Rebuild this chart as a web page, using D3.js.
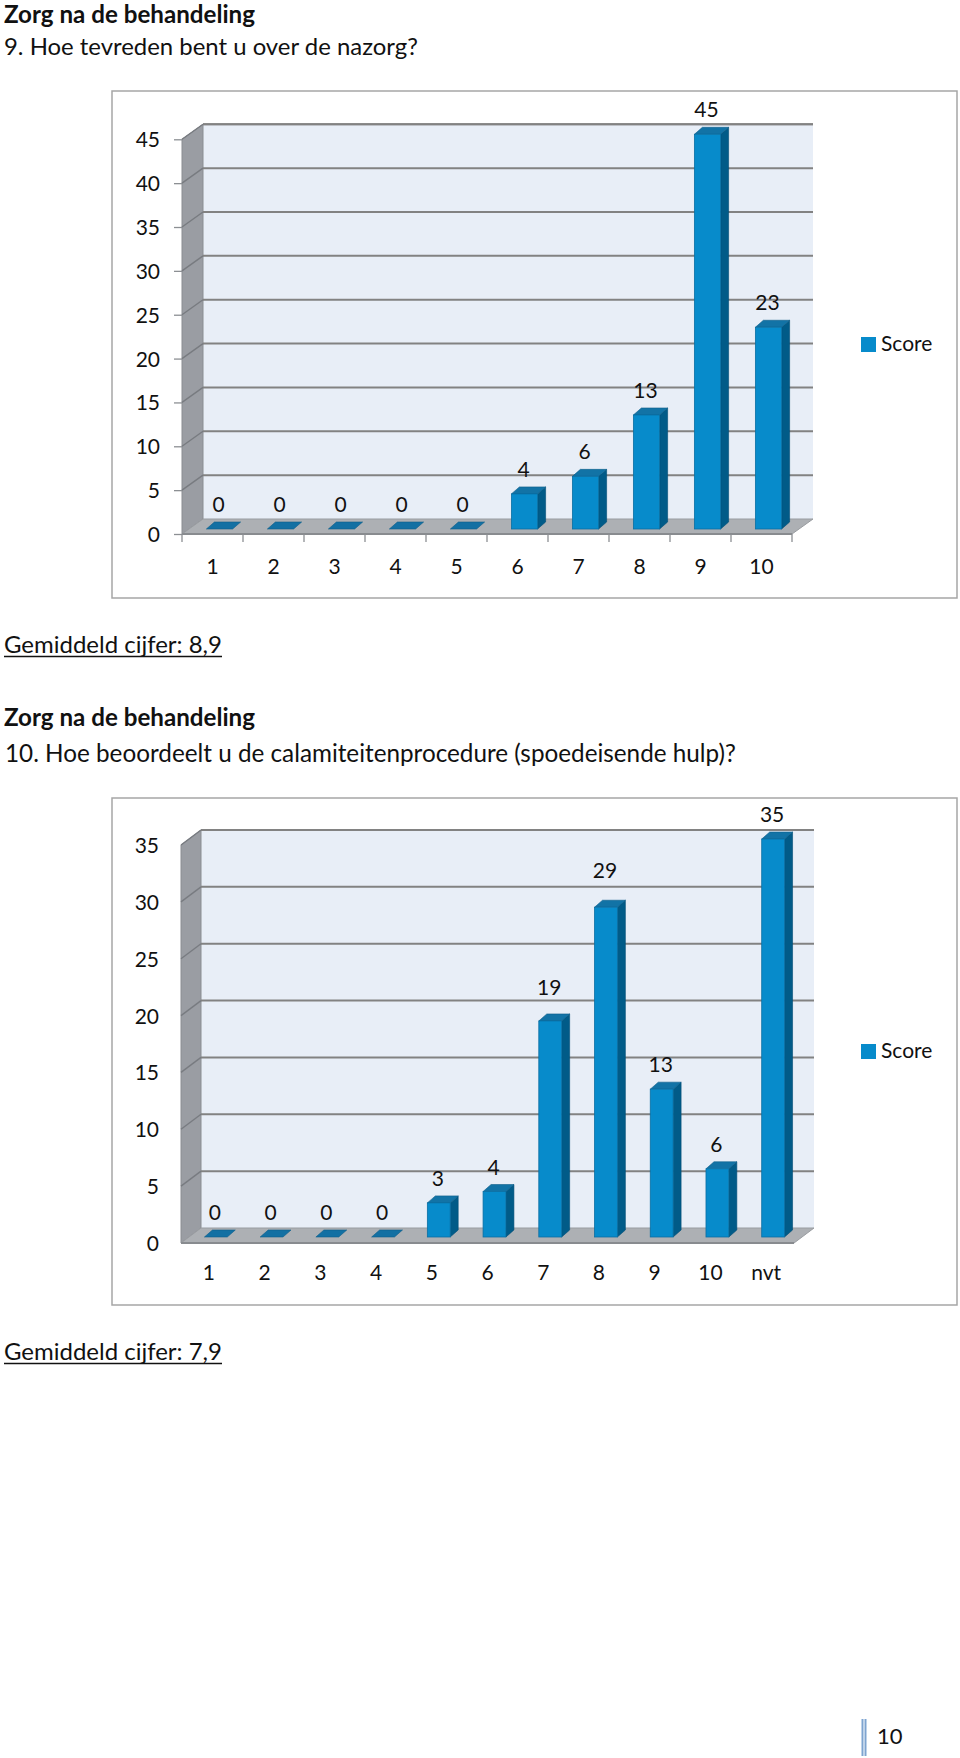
<!DOCTYPE html>
<html><head><meta charset="utf-8">
<script src="https://cdn.jsdelivr.net/npm/d3@7"></script>
<style>html,body{margin:0;padding:0;background:#fff} svg{display:block} text{font-family:Lato,"Open Sans",sans-serif;fill:#111}</style>
</head><body><svg id="c" width="960" height="1758"></svg>
<script>
const categories1 = ["1","2","3","4","5","6","7","8","9","10"];
const values1 = [0,0,0,0,0,4,6,13,45,23];
const yTicks1 = [0,5,10,15,20,25,30,35,40,45];
const categories2 = ["1","2","3","4","5","6","7","8","9","10","nvt"];
const values2 = [0,0,0,0,3,4,19,29,13,6,35];
const yTicks2 = [0,5,10,15,20,25,30,35];
const seriesName = "Score";
const heading = "Zorg na de behandeling";
const question1 = "9. Hoe tevreden bent u over de nazorg?";
const question2 = "10. Hoe beoordeelt u de calamiteitenprocedure (spoedeisende hulp)?";
const average1 = "Gemiddeld cijfer: 8,9";
const average2 = "Gemiddeld cijfer: 7,9";
const pageNumber = "10";

const svg = d3.select("#c");
const FS = 21;

function fitText(t, w){
  const base = 20;
  t.style("font-size", base + "px");
  const L = t.node().getComputedTextLength();
  t.style("font-size", (base * w / L) + "px");
}
function textLine(str, x, y, w, bold, underline){
  const t = svg.append("text").attr("x", x).attr("y", y).text(str)
    .style("font-weight", bold ? "700" : "400");
  fitText(t, w);
  if (underline){
    svg.append("line").attr("x1", x).attr("x2", x + w).attr("y1", y + 3.5).attr("y2", y + 3.5)
      .attr("stroke", "#111").attr("stroke-width", 1.3);
  }
}

textLine(heading, 4, 22.5, 251, true, false);
textLine(question1, 4, 55, 414, false, false);
textLine(average1, 4, 653, 218, false, true);
textLine(heading, 4, 726, 251, true, false);
textLine(question2, 5, 762, 731, false, false);
textLine(average2, 4, 1360, 218, false, true);

function drawChart(cfg){
  const g = svg.append("g");
  g.append("rect").attr("x", cfg.frame[0]).attr("y", cfg.frame[1])
    .attr("width", cfg.frame[2]).attr("height", cfg.frame[3])
    .attr("fill", "#fff").attr("stroke", "#a6a6a6").attr("stroke-width", 1.5);

  const x = d3.scaleBand().domain(cfg.categories).range([cfg.x0, cfg.x1]).padding(0);
  const y = d3.scaleLinear().domain([0, cfg.max]).range([cfg.y0, cfg.yTop]);
  const dx = cfg.dx, dy = cfg.dy;
  const yMax = y(cfg.max);

  // back wall
  g.append("rect").attr("x", cfg.x0 + dx).attr("y", yMax - dy)
    .attr("width", cfg.x1 - cfg.x0).attr("height", cfg.y0 - yMax)
    .attr("fill", "#e8eef7");
  g.append("line").attr("x1", cfg.x0 + dx).attr("x2", cfg.x1 + dx).attr("y1", yMax - dy).attr("y2", yMax - dy)
    .attr("stroke", "#8a8a8a").attr("stroke-width", 2);
  // side wall
  g.append("path").attr("d", `M${cfg.x0},${cfg.y0} L${cfg.x0},${yMax} L${cfg.x0+dx},${yMax-dy} L${cfg.x0+dx},${cfg.y0-dy} Z`)
    .attr("fill", "#9a9da3").attr("stroke", "#8a8d92").attr("stroke-width", 1);
  // gridlines
  cfg.ticks.forEach(v => {
    if (v === 0) return;
    const yy = y(v);
    g.append("line").attr("x1", cfg.x0 + dx).attr("x2", cfg.x1 + dx)
      .attr("y1", yy - dy).attr("y2", yy - dy)
      .attr("stroke", "#828282").attr("stroke-width", 2);
    g.append("line").attr("x1", cfg.x0).attr("x2", cfg.x0 + dx)
      .attr("y1", yy).attr("y2", yy - dy)
      .attr("stroke", "#787b80").attr("stroke-width", 1.4);
  });
  // floor
  g.append("path").attr("d", `M${cfg.x0},${cfg.y0} L${cfg.x1},${cfg.y0} L${cfg.x1+dx},${cfg.y0-dy} L${cfg.x0+dx},${cfg.y0-dy} Z`)
    .attr("fill", "#adb0b4").attr("stroke", "#999ca0").attr("stroke-width", 1);
  g.append("line").attr("x1", cfg.x0).attr("x2", cfg.x1).attr("y1", cfg.y0).attr("y2", cfg.y0)
    .attr("stroke", "#888b8f").attr("stroke-width", 1.8);

  // value axis
  const ay = g.append("g").attr("transform", `translate(${cfg.x0},0)`)
    .call(d3.axisLeft(y).tickValues(cfg.ticks).tickSize(cfg.tickMarks ? 8 : 0)
      .tickPadding(cfg.x0 - cfg.labelRight - (cfg.tickMarks ? 8 : 0)).tickFormat(d3.format("d")));
  ay.select(".domain").remove();
  ay.selectAll(".tick line").attr("stroke", "#8c8f93").attr("stroke-width", 1.3);
  ay.selectAll(".tick text").style("font-size", FS + "px").style("font-family", "Lato").attr("fill", "#111").attr("dy", "0.36em");

  // category axis
  const ax = g.append("g").attr("transform", `translate(0,${cfg.y0})`)
    .call(d3.axisBottom(x).tickSize(0).tickPadding(cfg.catPad));
  ax.select(".domain").remove();
  ax.selectAll(".tick text").style("font-size", FS + "px").style("font-family", "Lato").attr("fill", "#111");
  if (cfg.tickMarks){
    const bounds = cfg.categories.map(c => x(c)).concat([cfg.x1]);
    g.selectAll(null).data(bounds).enter().append("line")
      .attr("x1", d => d).attr("x2", d => d).attr("y1", cfg.y0).attr("y2", cfg.y0 + 8)
      .attr("stroke", "#8c8f93").attr("stroke-width", 1.3);
  }

  // bars
  const bw = x.bandwidth() * cfg.barRatio;
  const data = cfg.categories.map((c, i) => ({c, v: cfg.values[i]}));
  const bars = g.append("g").selectAll("g").data(data).enter().append("g");
  const base = y(0) + cfg.oy;
  const bdx = cfg.bdx, bdy = cfg.bdy;
  bars.each(function(d){
    const s = d3.select(this);
    const left = x(d.c) + x.bandwidth()/2 + cfg.ox - bw/2;
    const top = y(d.v) + cfg.oy;
    if (d.v === 0){
      s.append("path").attr("d", `M${left},${base} L${left+bw},${base} L${left+bw+bdx},${base+bdy} L${left+bdx},${base+bdy} Z`)
        .attr("fill", "#1370a3").attr("stroke", "#0d5e8a").attr("stroke-width", 0.6);
    } else {
      s.append("path").attr("d", `M${left+bw},${base} L${left+bw},${top} L${left+bw+bdx},${top+bdy} L${left+bw+bdx},${base+bdy} Z`)
        .attr("fill", "#015b88").attr("stroke", "#014e76").attr("stroke-width", 0.6);
      s.append("path").attr("d", `M${left},${top} L${left+bw},${top} L${left+bw+bdx},${top+bdy} L${left+bdx},${top+bdy} Z`)
        .attr("fill", "#1273a6").attr("stroke", "#0d5e8a").attr("stroke-width", 0.6);
      s.append("rect").attr("x", left).attr("y", top).attr("width", bw).attr("height", base - top)
        .attr("fill", "#078bcb").attr("stroke", "#0a6fa3").attr("stroke-width", 0.8);
    }
    const nudge = (cfg.labelNudge && cfg.labelNudge[d.c]) || 0;
    s.append("text").attr("x", left + bw/2 - 1).attr("y", top - 17 + nudge)
      .attr("text-anchor", "middle").style("font-size", FS + "px").text(d.v);
  });

  // legend
  g.append("rect").attr("x", 861).attr("y", cfg.legendY).attr("width", 15).attr("height", 15).attr("fill", "#078bcb");
  g.append("text").attr("x", 881).attr("y", cfg.legendY + 14).style("font-size", FS + "px").text(seriesName);
}

drawChart({
  frame: [112, 91, 845, 507], categories: categories1, values: values1, ticks: yTicks1, max: 45,
  x0: 182, x1: 792, y0: 534, yTop: 139.3, dx: 21, dy: 15, tickMarks: true, labelRight: 160, catPad: 25,
  barRatio: 0.43, ox: 7, oy: -5, bdx: 8, bdy: -7, legendY: 337
});
drawChart({
  frame: [112, 798, 845, 507], categories: categories2, values: values2, ticks: yTicks2, max: 35,
  x0: 181, x1: 794, y0: 1243, yTop: 845, dx: 20, dy: 15, tickMarks: false, labelRight: 159, catPad: 22,
  barRatio: 0.41, ox: 7, oy: -6, bdx: 8, bdy: -7, legendY: 1044,
  labelNudge: {"7": -9, "8": -12}
});

// page number
svg.append("rect").attr("x", 861).attr("y", 1719).attr("width", 6).attr("height", 37).attr("fill", "#c5d7ec");
svg.append("line").attr("x1", 862.5).attr("x2", 862.5).attr("y1", 1719).attr("y2", 1756).attr("stroke", "#7fa4cf").attr("stroke-width", 1.2);
svg.append("line").attr("x1", 865.5).attr("x2", 865.5).attr("y1", 1719).attr("y2", 1756).attr("stroke", "#7fa4cf").attr("stroke-width", 1.2);
svg.append("text").attr("x", 877).attr("y", 1744).style("font-size", "22px").text(pageNumber);
</script></body></html>
